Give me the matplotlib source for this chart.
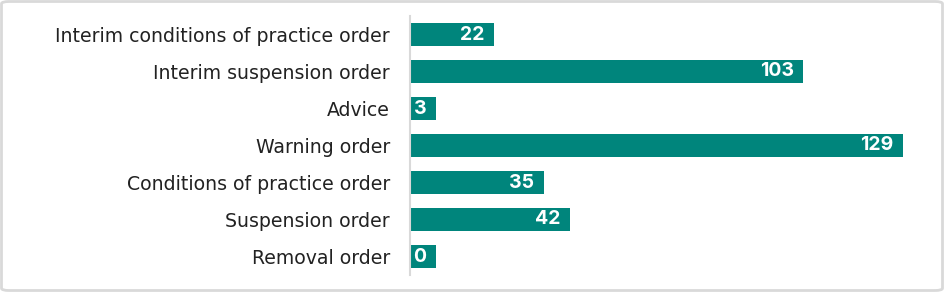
import matplotlib.pyplot as plt
from matplotlib.patches import FancyBboxPatch

categories = ["Interim conditions of practice order", "Interim suspension order", "Advice",
              "Warning order", "Conditions of practice order", "Suspension order", "Removal order"]
values = [22, 103, 3, 129, 35, 42, 0]

teal = "#00857c"
grey = "#d9d9d9"
min_len = 6.8  # short bars still get room for their label

plt.rcParams['font.family'] = ['Inter', 'DejaVu Sans']

fig = plt.figure(figsize=(9.44, 2.92), dpi=100)
W, H = 944, 292
ax = fig.add_axes([410 / W, (H - 275) / H, 520 / W, 259 / H])

shown = [max(v, min_len) for v in values]
ypos = list(range(len(categories)))
ax.barh(ypos, shown, height=0.62, color=teal)
ax.set_xlim(0, 520 / 3.82)
ax.set_ylim(len(categories) - 0.5, -0.5)
ax.set_yticks(ypos)
ax.set_yticklabels(categories, fontsize=13.6, color="#222222", family="DejaVu Sans")
ax.tick_params(axis='y', length=0, pad=14.4)
ax.set_xticks([])
for s in ["top", "right", "bottom"]:
    ax.spines[s].set_visible(False)
ax.spines["left"].set_color(grey)
ax.spines["left"].set_linewidth(1.5)

for y, v, s in zip(ypos, values, shown):
    ax.annotate(str(v), (s, y), xytext=(-7, 0), textcoords="offset points",
                ha="right", va="center", color="white", fontsize=14, fontweight="bold")

fig.patches.append(FancyBboxPatch((1.5 / W, 1.5 / H), 1 - 3 / W, 1 - 3 / H,
                                  boxstyle="round,pad=0,rounding_size=0.008",
                                  transform=fig.transFigure, facecolor="none",
                                  edgecolor=grey, linewidth=2))

fig.savefig("out.png", dpi=100)
